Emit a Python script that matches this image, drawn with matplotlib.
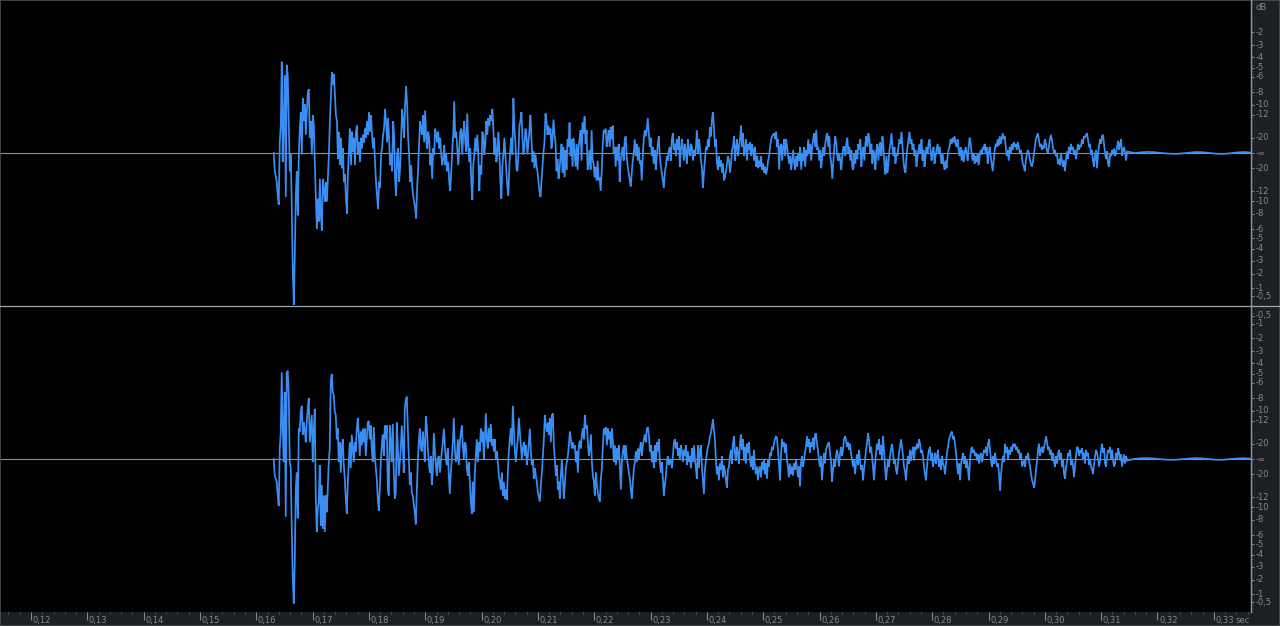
import numpy as np
import matplotlib
matplotlib.use("Agg")
import matplotlib.pyplot as plt
from matplotlib.ticker import MultipleLocator
from matplotlib.lines import Line2D
from matplotlib.patches import Rectangle

# ---------------- data (amplitude in % of full scale, one value per screen pixel) -------------
TOP_SEG1 = [0, -12, -15, -19, -28, -34, 7, 18, 60, -6,
            21, 51, -29, 58, 51, 21, -12, -1, -36, -78,
            -100, -67, -28, -12, -41, -1, 16, 27, -1, 36,
            21, 32, 12, 27, 40, 42, 10, 21, -1, 25,
            18, -8, -28, -50, -30, -45, -17, -41, -51, -17,
            -23, -32, -19, -32, -17, -1, 21, 38, 53, 45,
            52, 38, 25, 21, -4, 14, -8, 10, -10, 3,
            -19, -14, -30, -40, -12, 3, 16, -8, 14, 1,
            10, -8, 14, 18, -1, 7, -6, 10, 3, 12,
            7, 16, 10, 21, 12, 27, 14, 25, 12, 3,
            10, -6, -19, -28, -37, -19, -23, -1, 3, 12,
            16, 29, 21, 7, 23, 10, -8, -1, -12, 21,
            12, -17, -28, -1, 3, -19, -10, 10, 29, 21,
            10, 32, 44, 32, 10, -1, -19, -8, -21, -28,
            -32, -36, -43, -23, -10, 7, 21, 16, 12, 25,
            7, 28, 10, 3, 14, 10, -8, -1, -17, 3,
            -1, 16, 12, 7, 14, 3, 10, -1, -8, -4,
            5, -8, -1, -12, -6, -19, -25, -12, 1, 12,
            34, 10, 14, 3, -8, 3, 14, 16, -1, 12,
            21, 7, 1, 26, 5, -6, 3, -19, -31, -8,
            -1, 10, 1, 12, -1, -25, -8, -14, 14, 12,
            -1, 7, 21, 12, 23, 18, 25, 21, 29, 16,
            -1, 10, -6, -1, 14, 1, -19, -30, -8, -1,
            10, -1, -12, -23, -28, -8, 3, 10, -1, 36,
            16, 7, -10, -12, -1, 18, 21, 27, 10, -1,
            5, 16, 12, -1, 7, 15, 25, 10, -6, 1,
            -10, -1, -8, -12, -19, -25, -29, -19, -8, 1,
            7, 26, 21, 12, 18, 12, 16, 3, 10, 22,
            12, 7, -12, -4, -17, -11]

TOP_SEG2 = [-2, 6, -13, 4, -16, 2, -11, 9, 4, 20,
            -2, 9, -9, 10, 0, -9, 6, -11, 4, 9,
            15, -5, 20, 13, 24, 6, 15, -11, -7, 2,
            -11, 15, -5, -7, -16, -9, -18, -5, -18, -16,
            -25, -13, 4, 15, 13, 16, 4, 10, 15, 4,
            17, 9, 18, 0, 4, -9, 4, -5, 6, -19,
            -5, 0, 4, -5, 9, 11, -2, -9, -13, -18,
            -22, -13, -5, 0, 9, -2, 6, -5, 4, -7,
            -5, -18, -2, 9, 15, 11, 15, 23, 13, 4,
            10, -2, 4, -7, 2, -11, -2, 6, 11, -2,
            -9, -13, -18, -23, -13, -9, -2, -5, 2, 4,
            -5, 9, 13, 2, 6, -2, 9, 2, 11, -9,
            2, 9, 4, -5, 6, 0, -7, 9, 2, -2,
            6, 4, -5, 2, -2, 4, 15, 0, 9, 4,
            -5, -9, -23, -13, -5, 4, 2, 9, 4, 17,
            11, 22, 27, 17, 4, 9, -7, -11, -2, -9,
            -5, -13, -7, -18, -16, -12, -7, -2, -5, -13,
            -7, 2, 4, 11, -5, 4, 9, -2, 4, 9,
            18, 4, 13, -2, 2, 9, -5, 6, 2, 7,
            -2, 6, 2, -5, 4, -9, -2, -10, -5, -9,
            -2, -11, -7, -13, -9, -14, -11, -5, -2, 4,
            9, 11, 12, 13, 9, 14, 4, 9, -11, 4,
            6, -5, 4, 9, -2, 9, 4, -2, -7, -2,
            -11, -5, 2, -7, -11, -2, -9, 0, -5, 4,
            -11, 0, -5, 4, -9, 2, -2, 9, 0, 6,
            -5, 4, 9, 13, 4, 15, 2, 4, -5, 2,
            -10, -2, 4, -2, 6, 11, 13, 4, 11, -2,
            -7, -17, -7, 4, 11, 6, -2, -5, 0, -5,
            -11, -2, 4, 4]

TOP_SEG3 = [-2, 6, 10, 0, 4, -5, 2, -9, -11, 0,
            -7, 2, -4, 6, 2, 9, -9, 0, 4, -5,
            6, 11, 4, 13, 9, 0, 6, -7, 2, -2,
            -11, 2, 6, -5, 4, 7, -2, 11, 4, -7,
            -14, -2, -13, -7, 2, 6, 13, 4, -2, 4,
            -7, 0, -2, 4, 9, 6, 14, 4, -5, -11,
            -13, -2, 4, 9, 14, 6, 9, 2, 6, -2,
            2, -9, -2, 2, 6, 0, 9, -5, 2, -9,
            -2, 4, 0, 6, 9, 2, -5, 0, 4, -7,
            -2, 2, 6, 0, 4, -2, -7, 0, -7, -11,
            -5, -10, -2, 2, 4, 9, 6, 10, 7, 11,
            6, 4, 9, 2, -2, 4, -5, 2, -6, 0,
            4, 0, -5, 4, 10, 6, 0, -5, 0, -7,
            -2, -6, 0, -8, -2, 2, -1, 4, 2, 6,
            0, 4, -7, 0, 4, -2, -7, -12, -5, 2,
            6, 4, 9, 5, 11, 6, 10, 13, 9, 11,
            4, -2, 2, -5, 4, 0, 6, 2, 7, 4,
            6, 2, 7, 4, 0, 2, -2, -7, -9, -12,
            -5, -1, 2, 0, -4, -7, -9, -6, -1, 4,
            9, 11, 13, 9, 4, 6, 2, 5, 3, 9,
            6, 2, 0, 4, 9, 12, 9, 4, 0, 2,
            -2, 0, -7, -4, -8, 0, -5, -9, -5, -12,
            -5, 1, -4, 4, 0, 6, 2, 4, -1, 2,
            -4, 0, 6, 2, 5, 4, 9, 6, 11, 10,
            12, 13, 9, 4, 6, -1, 2, -5, -9, -2,
            2, -10, -1, 4, 9, 6, 11, 12, 6, 0,
            -4, 1, -7, -9, -1, -2, 2, -1, 3, -2,
            0, 4, 8, 2, 6, 9, -2, 2, 4, 0,
            -5, 1]

TOP_TAIL = [0, 0.4, 0.7, 0.5, 0, -0.4, -0.6, -0.3, 0.2, 0.6, 0.5, 0,
            -0.5, -0.6, -0.2, 0.4, 0.6, 0.3]

BOT_SEG1 = [0, -11, -13, -15, -24, -31, 7, 17, 57, 20,
            -2, 44, -38, 57, 58, 42, -2, -6, -46, -79,
            -95, -68, -20, -9, -39, 20, 18, 31, 35, 16,
            24, 20, 11, 24, 33, 40, 11, 20, 29, -2,
            18, 33, -24, -48, -33, -28, -4, -44, -17, -46,
            -24, -48, -24, -35, -20, -2, 7, 51, 56, 44,
            42, 31, 29, 13, 20, -2, 11, -9, 7, 13,
            -4, -13, -26, -36, -17, -2, 11, -6, 16, 7,
            -2, 11, 5, 20, 27, 16, 2, 18, 9, 20,
            11, 20, 2, 13, 24, 25, 13, 22, 7, -2,
            21, 2, -6, -13, -26, -34, -20, -2, 9, 16,
            2, 22, 13, 22, -20, -24, 22, 11, -2, 23,
            -9, -26, -22, 24, 9, -11, -2, 7, 22, 9,
            -9, 33, 39, 41, 20, 2, -17, -9, -22, -24,
            -30, -35, -43, -20, -2, 11, 20, 7, 5, 18,
            11, -2, 28, 22, 7, -2, -9, 2, -17, -9,
            17, 7, -4, -11, 0, 2, -9, -2, 5, 11,
            20, 9, 0, -4, 7, -11, -23, -9, 0, 11,
            27, 7, -2, 0, 13, -4, 11, 17, 22, 9,
            0, 11, 9, -6, -11, -2, -15, -28, -36, -15,
            -35, -9, 2, 13, -2, 11, 5, 20, 11, 18,
            0, 13, 30, 13, 7, 20, 11, 23, 9, 13,
            5, 13, 0, 5, -2, -11, -15, -20, -9, -24,
            -15, -26, -20, -27, -9, 5, 13, 20, 9, 35,
            20, 5, -2, 7, 13, 27, 18, 9, 0, 7,
            11, 2, 9, -4, 2, 11, 20, 5, -4, 0,
            -13, -6, -11, -15, -22, -25, -28, -17, -9, 2,
            13, 29, 22, 18, 24, 16, 27, 11, 29, 30,
            9, 0, -11, -4, -20, -15, -26, -11, 0, -13,
            -26, -17, -6, -2, 2, 9, 18, 13, 7, 11,
            7, 9, -2, 5, -9, 9, 12, 7, 16, 20,
            13, 29, 20, 22, 11, 2, 7, 16, -2, -11,
            -15, -24, -9, -17, -22, -26, -28, -13, -6, 9,
            20, 16, 21, 9, 20, 13, 18, 7, 20, 11,
            -2, 9, -4, 7, 0, 9, -6, -20, -2, 5,
            9, 0, 9, 0, -4, -9, -13, -20, -26, -15,
            -6, -2, 5, -2, 7, 0, 7, 11, 2, 9,
            13, 16, 11, 20, 21, 16, 5, 9, -2, 5,
            -6, 9, -2, 11, 5, 13, -2, -9, -2, -13,
            -24, -17, -11, -2, 2, -4, 0, -2, -6, 2,
            11, 13, 7, 11, 2, 7, 0, 9, 5, -2,
            6, 2, 9, -4, 5, -2, 2, -6, 7, -2,
            9, 0, -6, -13, 9, -6]

BOT_SEG2 = [6, 9, -5, -14, -23, -7, -1, 4, 8, 10,
            15, 17, 21, 26, 19, 13, -1, -10, -5, -14,
            -3, -7, 2, -12, -4, -8, -14, -19, -7, -5,
            2, 6, -3, 10, 15, 4, -1, 8, 4, -3,
            10, 16, 6, 13, -1, 8, -3, 10, 4, 11,
            0, -5, 2, -7, 6, -5, -10, -5, -14, -7,
            -5, -12, -2, -7, 0, -10, -3, -13, -1, -5,
            4, 2, 8, 6, 10, 13, 15, 14, 6, -3,
            -14, 2, 13, 8, 11, 4, 10, -1, -5, -12,
            -3, -10, -5, -11, -3, -7, -1, -5, -12, -5,
            -18, -3, 2, -5, -1, 4, 8, 15, 8, 13,
            4, 11, 8, 14, 6, 16, 17, 10, 6, -1,
            -5, 2, -14, -5, 4, -3, 6, 8, 10, 11,
            4, -1, -15, -7, -1, -5, 2, 6, 2, -5,
            3, 8, 2, 6, 13, 15, 13, 8, 11, 6,
            10, 4, 0, -5, -1, -10, -3, 3, -4, 6,
            -1, -7, -4, -14, -7, -1, 6, 10, 17, 13,
            4, 8, 2, -5, -14, -4, 4, 10, 6, 13,
            3, 9, 0, 15, 6, -5, -14, -7, -1, -5,
            2, 6, 10, 4, -3, 0, -7, -10, -3, 4,
            8, 13, 8, 2, -5, -8, -14, -5, 2, -3,
            6, -1, 4, 8, -1, 8, 6, 10, 7, 13,
            10, 4, 6, 2, -5, -10, -14, -5, 2, 6,
            8, -1, 4, -5, -1, 4, -3, 2, 6, -5,
            -1, -7, 2, -3, -5, -10, -3, 4, 8, 13,
            15, 17, 18, 13, 15, 10, 4, -3, -10, -3,
            -14, -3, 0, 4, -3, 2, -6, -1, -7, -14,
            -1, 6, 8, 4, 6, 2, 4, -1, 3, -3,
            2, 4, -2, 2, 6, 4, 8, 2, 10, 13,
            6, -1, -5, 2, -3, 4, -1, -5, -3, -10,
            -21, -10, -3, 2, -2, 10, 4, 8, 0, 6,
            3, 8, 5, 10, 8, 10, 6, 8, 4, 6,
            0, 4, -5, -3, -1, -5, 2, 0, 4, -1,
            -5, -10, -14, -16, -19, -14, -7, -1, 6, 10,
            2, 6, 8, 4, 8, 11, 15, 11, 6, 8,
            3, 6, -1, 4, -2, -5, 2, -3, 3, 6,
            0, 4, -5, -1, -10, -13, -5, -2, 4, 2,
            6, -4, 0, -5, -12, -4, 2, 8, 7, 2,
            6, 4, 7, 0, 4, -3, 6, 2, 4, -4,
            0, -5, -7, -10, -3, 2, 6, 4, 0, -5,
            -1, 6, 10, 4, 7, -3, -5, 2, 6, 4,
            8, 0, 6, -1, -5, -3, 4, 0, 7, 4,
            -1, 3, -5, -1, 3, -3, 2, -1]

BOT_TAIL = [0, 0.5, 0.6, 0.3, -0.2, -0.5, -0.5, -0.1, 0.3, 0.6, 0.4, -0.1,
            -0.5, -0.5, 0, 0.4, 0.5, 0.2]

ONSET_S = 0.1631        # first sample shown
DECAY_END_S = 0.3146    # end of the audible decay
VIEW_START_S = 0.1145
VIEW_END_S = 0.3366

TIME_TICKS = [0.12, 0.13, 0.14, 0.15, 0.16, 0.17, 0.18, 0.19, 0.20, 0.21, 0.22,
              0.23, 0.24, 0.25, 0.26, 0.27, 0.28, 0.29, 0.30, 0.31, 0.32, 0.33]
TIME_LABELS = ["0,12", "0,13", "0,14", "0,15", "0,16", "0,17", "0,18", "0,19",
               "0,20", "0,21", "0,22", "0,23", "0,24", "0,25", "0,26", "0,27",
               "0,28", "0,29", "0,30", "0,31", "0,32", "0,33"]

DB_TOP_UPPER = [-2, -3, -4, -5, -6, -8, -10, -12, -20]
DB_FULL = [-0.5, -1, -2, -3, -4, -5, -6, -8, -10, -12, -20]

# ---------------- style -------------
BG = "#000000"
PANEL = "#1c1f23"
LABEL = "#858a90"
BORDER = "#8e9398"
WAVE = "#3a8ef2"
ZERO = "#7d93ab"
FS = 6.0
YLIM = 153.0 / 152.0

W, H = 1280, 626
PLOT_W = 1251


def series(segments, tail):
    body = np.concatenate([np.asarray(s, float) for s in segments]) / 100.0
    t_body = np.linspace(ONSET_S, DECAY_END_S, len(body))
    tl = np.asarray(tail, float) / 100.0
    t_tail = np.linspace(DECAY_END_S, VIEW_END_S, len(tl) + 1)[1:]
    return np.concatenate([t_body, t_tail]), np.concatenate([body, tl])


def fmt_db(v):
    return ("%g" % v).replace(".", ",")


fig = plt.figure(figsize=(12.8, 6.26), dpi=100, facecolor=PANEL)


def px_axes(x0, y0, w, h):
    return fig.add_axes([x0 / W, 1 - (y0 + h) / H, w / W, h / H])


ax_top = px_axes(0, 0, PLOT_W, 306)
ax_bot = px_axes(0, 306, PLOT_W, 306)
ax_time = px_axes(0, 612, PLOT_W, 14)
rp_top = px_axes(PLOT_W, 0, W - PLOT_W, 306)
rp_bot = px_axes(PLOT_W, 306, W - PLOT_W, 306)

for ax, segs, tail in ((ax_top, (TOP_SEG1, TOP_SEG2, TOP_SEG3), TOP_TAIL),
                       (ax_bot, (BOT_SEG1, BOT_SEG2), BOT_TAIL)):
    ax.set_facecolor(BG)
    ax.set_xlim(VIEW_START_S, VIEW_END_S)
    ax.set_ylim(-YLIM, YLIM)
    ax.set_xticks([])
    ax.set_yticks([])
    for sp in ax.spines.values():
        sp.set_visible(False)
    ax.axhline(0, color=ZERO, lw=0.8, zorder=1)
    t, a = series(segs, tail)
    ax.plot(t, a, color=WAVE, lw=1.25, zorder=2, solid_joinstyle="miter")

# right dB panels
for rp, upper in ((rp_top, DB_TOP_UPPER), (rp_bot, DB_FULL)):
    rp.set_facecolor(PANEL)
    rp.set_xlim(0, 1)
    rp.set_ylim(-YLIM, YLIM)
    for k, sp in rp.spines.items():
        sp.set_visible(k == "left")
    rp.spines["left"].set_color(BORDER)
    rp.spines["left"].set_linewidth(0.9)
    amps = [10 ** (d / 20.0) for d in upper] + [0.0] + [-(10 ** (d / 20.0)) for d in DB_FULL]
    labels = [fmt_db(d) for d in upper] + ["-\u221e"] + [fmt_db(d) for d in DB_FULL]
    rp.set_yticks(amps)
    rp.yaxis.set_minor_locator(MultipleLocator(0.02))
    rp.tick_params(axis="y", which="major", direction="in", length=2.2, width=0.7,
                   color=LABEL, labelleft=False)
    rp.tick_params(axis="y", which="minor", direction="in", length=0.9, width=0.6,
                   color="#5d6167")
    rp.set_xticks([])
    tr = rp.get_yaxis_transform()
    for a, lab in zip(amps, labels):
        rp.text(0.16, a, lab, transform=tr, ha="left", va="center",
                fontsize=FS, color=LABEL, family="DejaVu Sans")

rp_top.text(0.16, 1 - 7.0 / 306, "dB", transform=rp_top.transAxes, ha="left",
            va="center", fontsize=FS, color=LABEL, family="DejaVu Sans")

# time ruler
ax_time.set_facecolor(PANEL)
ax_time.set_xlim(VIEW_START_S, VIEW_END_S)
ax_time.set_ylim(0, 1)
for sp in ax_time.spines.values():
    sp.set_visible(False)
ax_time.set_yticks([])
ax_time.set_xticks(TIME_TICKS)
ax_time.xaxis.set_minor_locator(MultipleLocator(0.002))
ax_time.tick_params(axis="x", which="major", top=True, bottom=False, direction="in",
                    length=6.0, width=0.8, color=LABEL, labelbottom=False, labeltop=False)
ax_time.tick_params(axis="x", which="minor", top=True, bottom=False, direction="in",
                    length=1.4, width=0.6, color="#5d6167")
xtr = ax_time.get_xaxis_transform()
for tv, lab in zip(TIME_TICKS, TIME_LABELS):
    ax_time.text(tv + 0.0003, 0.42, lab, transform=xtr, ha="left", va="center",
                 fontsize=FS, color=LABEL, family="DejaVu Sans")
ax_time.text(1 - 1.0 / PLOT_W, 0.42, "sec", transform=ax_time.transAxes, ha="right",
             va="center", fontsize=FS, color=LABEL, family="DejaVu Sans")

# channel divider and frame
fig.add_artist(Line2D([0, 1], [1 - 306 / H, 1 - 306 / H], transform=fig.transFigure,
                      color="#a2a7ac", lw=0.9))
fig.add_artist(Line2D([PLOT_W / W, PLOT_W / W], [14 / H, 1], transform=fig.transFigure,
                      color=BORDER, lw=0.9))
fig.add_artist(Rectangle((0, 0), 1, 1, transform=fig.transFigure, fill=False,
                         edgecolor="#4a4e54", lw=1.2))

fig.savefig("out.png", dpi=100, facecolor=PANEL)
